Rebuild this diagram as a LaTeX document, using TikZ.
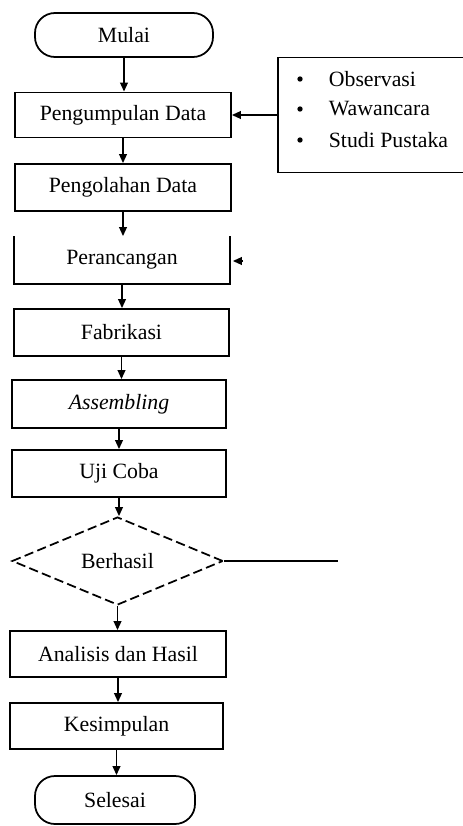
\documentclass[tikz,border=0pt]{standalone}
\usepackage{fontspec}
\setmainfont{Liberation Serif}
\usetikzlibrary{arrows.meta,calc,positioning,shapes.geometric}

\begin{document}
\begin{tikzpicture}[x=0.3mm,y=-0.3mm,line width=1.5pt,font=\fontsize{18.6}{22}\selectfont]

\tikzset{prosesnode/.style={draw,shape=rectangle,minimum width=6.45cm,minimum height=1.41cm,inner sep=0pt},
terminal/.style={draw,shape=rectangle,rounded corners=0.6cm,inner sep=0pt},
keputusan/.style={draw,dash pattern=on 2.8mm off 1.3mm,shape=diamond,inner sep=0pt,minimum width=6.33cm,minimum height=2.52cm},
panah/.style={-{Triangle[length=2.7mm,width=2.3mm]}},
butir/.style={anchor=west,inner sep=0pt},
titik/.style={shape=circle,fill,inner sep=0pt,minimum size=1.6mm}}

\useasboundingbox (0,0) rectangle (462,826);

% Main flow nodes
\node[terminal,minimum width=5.34cm,minimum height=1.32cm] (mulai) at (124,35) {Mulai};
\node[prosesnode,minimum width=6.48cm,minimum height=1.35cm] (kumpul) at (123,115) {Pengumpulan Data};
\node[prosesnode,minimum width=6.48cm] (olah) at (123,187.5) {Pengolahan Data};
\node[prosesnode,draw=none,minimum width=6.42cm,minimum height=1.38cm] (rancang) at (122,260) {Perancangan};
\node[prosesnode] (fabrikasi) at (121.5,332.5) {Fabrikasi};
\node[prosesnode,minimum width=6.42cm,minimum height=1.44cm] (rakit) at (119,404) {\textit{Assembling}};
\node[prosesnode,minimum width=6.42cm] (uji) at (119,473.5) {Uji Coba};
\node[keputusan] (berhasil) at (117.5,561) {Berhasil};
\node[prosesnode,minimum width=6.48cm,minimum height=1.38cm] (analisis) at (118,654) {Analisis dan Hasil};
\node[prosesnode,minimum width=6.39cm,minimum height=1.38cm] (simpul) at (116.5,726) {Kesimpulan};
\node[terminal,minimum width=4.8cm,minimum height=1.44cm] (selesai) at (115,800) {Selesai};

% Perancangan box, open at the top
\draw (rancang.north west) -- (rancang.south west) -- (rancang.south east) -- (rancang.north east);

% Data collection methods
\node[draw,minimum width=5.76cm,minimum height=3.45cm,inner sep=0pt] (metode) at (374,115) {};
\node[butir] (obs) at (328,79) {Observasi};
\node[butir] (waw) at (328,109) {Wawancara};
\node[butir] (stu) at (328,140) {Studi Pustaka};
\foreach \n in {obs,waw,stu} \node[titik] (b\n) at ($(\n.west) + (-28,0)$) {};

% Edges
\foreach \a/\b in {mulai/kumpul,kumpul/olah,olah/rancang,rancang/fabrikasi,fabrikasi/rakit,rakit/uji,uji/berhasil,berhasil/analisis,analisis/simpul,simpul/selesai}
  \draw[panah] (\a.south) -- (\a.south |- \b.north);
\draw[panah] (metode.west) -- (kumpul.east);

% Loose ends
\coordinate (ujung) at (338,561);
\draw (berhasil.east) -- (ujung);
\coordinate (balik) at (243,261);
\draw[panah] (balik) -- ([xshift=0.9mm]balik -| rancang.east);

\end{tikzpicture}
\end{document}
